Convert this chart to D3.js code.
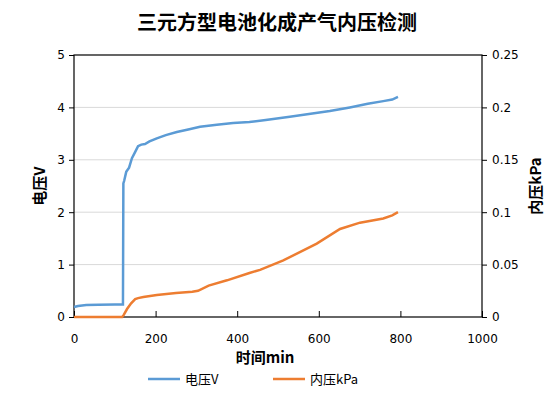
<!DOCTYPE html>
<html>
<head>
<meta charset="utf-8">
<script src="https://cdn.jsdelivr.net/npm/d3@7"></script>
<style>
  body { margin: 0; background: #fff; }
  text { font-family: "DejaVu Sans", Verdana, sans-serif; }
</style>
</head>
<body>
<svg id="chart" width="555" height="396"></svg>
<script>
// time (min) vs voltage (V)
const voltTime = [0, 10, 30, 60, 100, 120, 121, 123, 128, 135, 142, 150, 157, 165, 174, 185, 203, 225, 252, 280, 309, 350, 390, 430, 470, 529, 580, 627, 676, 720, 758, 780, 794];
const voltVals = [0.19, 0.21, 0.23, 0.235, 0.24, 0.24, 2.55, 2.6, 2.77, 2.85, 3.03, 3.15, 3.26, 3.29, 3.30, 3.35, 3.41, 3.47, 3.53, 3.58, 3.63, 3.67, 3.70, 3.72, 3.76, 3.82, 3.88, 3.93, 4.0, 4.07, 4.12, 4.15, 4.2];

// time (min) vs internal pressure (kPa)
const presTime = [0, 60, 118, 122, 130, 140, 150, 157, 170, 203, 250, 290, 304, 330, 375, 430, 456, 513, 595, 652, 701, 758, 780, 794];
const presVals = [0, 0, 0, 0.002, 0.0076, 0.013, 0.017, 0.018, 0.019, 0.021, 0.023, 0.024, 0.025, 0.030, 0.035, 0.042, 0.045, 0.054, 0.070, 0.084, 0.090, 0.094, 0.097, 0.100];

const xTicks = [0, 200, 400, 600, 800, 1000];
const yLeftTicks = [0, 1, 2, 3, 4, 5];
const yRightTicks = [0, 0.05, 0.1, 0.15, 0.2, 0.25];

const svg = d3.select("#chart");
const plotL = 74, plotR = 482, plotT = 55, plotB = 317;
const cjk = "'Noto Sans CJK SC', sans-serif";

const x = d3.scaleLinear().domain([0, 1000]).range([plotL, plotR]);
const yL = d3.scaleLinear().domain([0, 5]).range([plotB, plotT]);
const yR = d3.scaleLinear().domain([0, 0.25]).range([plotB, plotT]);

// gridlines
svg.append("g")
    .selectAll("line")
    .data(yLeftTicks.slice(1, -1))
    .join("line")
    .attr("x1", plotL).attr("x2", plotR)
    .attr("y1", d => yL(d)).attr("y2", d => yL(d))
    .attr("stroke", "#d9d9d9").attr("stroke-width", 1);

// axes
const axisStyle = g => {
    g.select(".domain").remove();
    g.selectAll("line").attr("stroke", "#000");
    g.selectAll("text").attr("font-size", 12).attr("fill", "#000");
};

svg.append("g")
    .attr("transform", `translate(0,${plotB})`)
    .call(d3.axisBottom(x).tickValues(xTicks).tickSize(-6).tickPadding(17).tickFormat(d3.format("d")))
    .call(axisStyle);

svg.append("g")
    .attr("transform", `translate(${plotL},0)`)
    .call(d3.axisLeft(yL).tickValues(yLeftTicks).tickSize(5).tickPadding(4).tickFormat(d3.format("d")))
    .call(axisStyle);

svg.append("g")
    .attr("transform", `translate(${plotR},0)`)
    .call(d3.axisRight(yR).tickValues(yRightTicks).tickSize(5).tickPadding(5).tickFormat(d => d === 0 ? "0" : String(d)))
    .call(axisStyle);

// frame
svg.append("rect")
    .attr("x", plotL).attr("y", plotT)
    .attr("width", plotR - plotL).attr("height", plotB - plotT)
    .attr("fill", "none").attr("stroke", "#000").attr("stroke-width", 1.2);

// lines
const voltData = voltTime.map((t, i) => [t, voltVals[i]]);
const presData = presTime.map((t, i) => [t, presVals[i]]);

svg.append("path")
    .datum(voltData)
    .attr("fill", "none")
    .attr("stroke", "#5b9bd5")
    .attr("stroke-width", 2.5)
    .attr("d", d3.line().x(d => x(d[0])).y(d => yL(d[1])));

svg.append("path")
    .datum(presData)
    .attr("fill", "none")
    .attr("stroke", "#ed7d31")
    .attr("stroke-width", 2.5)
    .attr("d", d3.line().x(d => x(d[0])).y(d => yR(d[1])));

// title
svg.append("text")
    .attr("x", 277).attr("y", 30)
    .attr("text-anchor", "middle")
    .attr("font-size", 20).attr("font-weight", "bold")
    .style("font-family", cjk)
    .text("三元方型电池化成产气内压检测");

// axis titles
svg.append("text")
    .attr("transform", "translate(45,186) rotate(-90)")
    .attr("text-anchor", "middle")
    .attr("font-size", 15).attr("font-weight", "bold")
    .style("font-family", cjk)
    .text("电压V");

svg.append("text")
    .attr("transform", "translate(541,186) rotate(-90)")
    .attr("text-anchor", "middle")
    .attr("font-size", 15).attr("font-weight", "bold")
    .style("font-family", cjk)
    .text("内压kPa");

svg.append("text")
    .attr("x", 265).attr("y", 363)
    .attr("text-anchor", "middle")
    .attr("font-size", 15).attr("font-weight", "bold")
    .style("font-family", cjk)
    .text("时间min");

// legend
const legend = [
    { name: "电压V", color: "#5b9bd5", x: 148 },
    { name: "内压kPa", color: "#ed7d31", x: 273 }
];
const lg = svg.append("g").selectAll("g").data(legend).join("g")
    .attr("transform", d => `translate(${d.x},379)`);
lg.append("line")
    .attr("x1", 0).attr("x2", 32)
    .attr("stroke", d => d.color).attr("stroke-width", 2.5);
lg.append("text")
    .attr("x", 37).attr("y", 5)
    .attr("font-size", 13)
    .style("font-family", cjk)
    .text(d => d.name);
</script>
</body>
</html>
